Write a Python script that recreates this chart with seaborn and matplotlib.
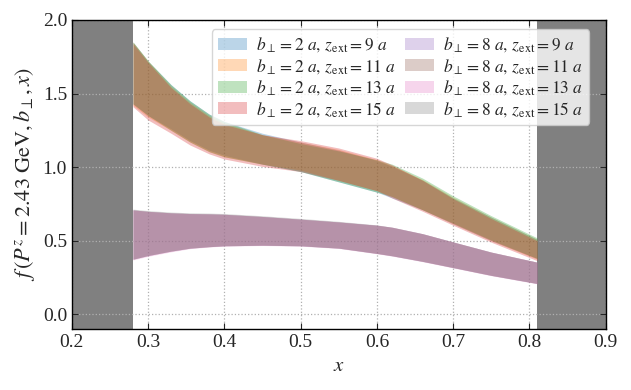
import numpy as np
import seaborn as sns
import matplotlib
matplotlib.use("Agg")
import matplotlib.pyplot as plt
from matplotlib.patches import Patch

# sample points along x
x = [0.28, 0.30, 0.33, 0.355, 0.38, 0.40, 0.45, 0.50, 0.55, 0.60, 0.62, 0.66, 0.70, 0.75, 0.81]

# b_perp = 2a bands (upper / lower edges)
b2_z9_hi = [1.85, 1.72, 1.56, 1.45, 1.36, 1.31, 1.23, 1.17, 1.115, 1.045, 1.005, 0.91, 0.79, 0.66, 0.51]
b2_z9_lo = [1.43, 1.35, 1.26, 1.18, 1.115, 1.08, 1.02, 0.97, 0.90, 0.83, 0.79, 0.71, 0.615, 0.50, 0.38]
b2_z11_hi = [1.85, 1.72, 1.55, 1.44, 1.35, 1.30, 1.22, 1.17, 1.12, 1.05, 1.01, 0.915, 0.795, 0.66, 0.51]
b2_z11_lo = [1.42, 1.34, 1.25, 1.17, 1.105, 1.07, 1.02, 0.98, 0.91, 0.84, 0.80, 0.71, 0.615, 0.50, 0.375]
b2_z13_hi = [1.85, 1.72, 1.56, 1.45, 1.36, 1.31, 1.22, 1.16, 1.11, 1.05, 1.02, 0.925, 0.805, 0.67, 0.52]
b2_z13_lo = [1.43, 1.35, 1.25, 1.17, 1.105, 1.07, 1.02, 0.97, 0.90, 0.83, 0.80, 0.71, 0.62, 0.505, 0.38]
b2_z15_hi = [1.84, 1.71, 1.54, 1.43, 1.34, 1.29, 1.22, 1.18, 1.13, 1.06, 1.015, 0.91, 0.785, 0.65, 0.50]
b2_z15_lo = [1.41, 1.32, 1.23, 1.15, 1.09, 1.055, 1.005, 0.97, 0.91, 0.84, 0.79, 0.70, 0.605, 0.49, 0.365]

# b_perp = 8a bands
b8_z9_hi = [0.71, 0.70, 0.69, 0.685, 0.683, 0.68, 0.665, 0.647, 0.628, 0.606, 0.592, 0.548, 0.492, 0.423, 0.355]
b8_z9_lo = [0.375, 0.40, 0.43, 0.45, 0.46, 0.466, 0.47, 0.466, 0.45, 0.414, 0.398, 0.36, 0.318, 0.265, 0.21]
b8_z11_hi = [0.71, 0.70, 0.69, 0.685, 0.683, 0.68, 0.665, 0.647, 0.628, 0.606, 0.592, 0.548, 0.492, 0.423, 0.355]
b8_z11_lo = [0.375, 0.40, 0.43, 0.45, 0.46, 0.466, 0.47, 0.466, 0.45, 0.414, 0.398, 0.36, 0.318, 0.265, 0.21]
b8_z13_hi = [0.71, 0.70, 0.69, 0.685, 0.683, 0.68, 0.665, 0.647, 0.628, 0.606, 0.592, 0.548, 0.492, 0.423, 0.355]
b8_z13_lo = [0.37, 0.395, 0.425, 0.447, 0.458, 0.464, 0.468, 0.464, 0.448, 0.412, 0.396, 0.358, 0.316, 0.263, 0.208]
b8_z15_hi = [0.715, 0.705, 0.695, 0.69, 0.688, 0.685, 0.67, 0.652, 0.632, 0.608, 0.592, 0.548, 0.492, 0.423, 0.355]
b8_z15_lo = [0.375, 0.40, 0.43, 0.45, 0.46, 0.466, 0.47, 0.466, 0.45, 0.414, 0.398, 0.36, 0.318, 0.265, 0.21]

labels = [r"$b_\perp=2\ a,\, z_\mathrm{ext}=9\ a$",
          r"$b_\perp=2\ a,\, z_\mathrm{ext}=11\ a$",
          r"$b_\perp=2\ a,\, z_\mathrm{ext}=13\ a$",
          r"$b_\perp=2\ a,\, z_\mathrm{ext}=15\ a$",
          r"$b_\perp=8\ a,\, z_\mathrm{ext}=9\ a$",
          r"$b_\perp=8\ a,\, z_\mathrm{ext}=11\ a$",
          r"$b_\perp=8\ a,\, z_\mathrm{ext}=13\ a$",
          r"$b_\perp=8\ a,\, z_\mathrm{ext}=15\ a$"]

bands = [(b2_z9_lo, b2_z9_hi), (b2_z11_lo, b2_z11_hi),
         (b2_z13_lo, b2_z13_hi), (b2_z15_lo, b2_z15_hi),
         (b8_z9_lo, b8_z9_hi), (b8_z11_lo, b8_z11_hi),
         (b8_z13_lo, b8_z13_hi), (b8_z15_lo, b8_z15_hi)]

sns.set_style("ticks")
plt.rcParams["font.family"] = ["Liberation Serif", "DejaVu Serif"]
plt.rcParams["mathtext.fontset"] = "stix"
colors = sns.color_palette("tab10", 8)

fig = plt.figure(figsize=(6.31, 3.9), dpi=100)
ax = fig.add_axes([0.114, 0.156, 0.846, 0.793])

ax.axvspan(0.2, 0.28, color="grey", zorder=0.5, lw=0)
ax.axvspan(0.81, 0.9, color="grey", zorder=0.5, lw=0)

handles = []
for (lo, hi), c, lab in zip(bands, colors, labels):
    ax.fill_between(x, lo, hi, color=c, alpha=0.3, lw=0, zorder=2)
    handles.append(Patch(facecolor=c, alpha=0.3, edgecolor="none", label=lab))

ax.set_xlim(0.2, 0.9)
ax.set_ylim(-0.1, 2.0)
ax.set_xticks(np.arange(0.2, 0.91, 0.1))
ax.set_yticks([0.0, 0.5, 1.0, 1.5, 2.0])
ax.grid(True, linestyle=":", color="#b0b0b0", lw=0.9)
ax.tick_params(direction="in", top=True, right=True, labelsize=14, length=4)
for s in ax.spines.values():
    s.set_linewidth(1.0)
    s.set_color("black")

ax.set_xlabel(r"$x$", fontsize=15)
ax.set_ylabel(r"$f\,(P^z=2.43\ \mathrm{GeV}, b_\perp, x)$", fontsize=16)

ax.legend(handles=handles, ncol=2, loc="upper right", bbox_to_anchor=(0.985, 0.997),
          fontsize=12.5, frameon=True, fancybox=True, framealpha=0.8,
          handlelength=1.7, handletextpad=0.5, columnspacing=0.5, labelspacing=0.15,
          borderpad=0.35)

fig.savefig("out.png", dpi=100)
